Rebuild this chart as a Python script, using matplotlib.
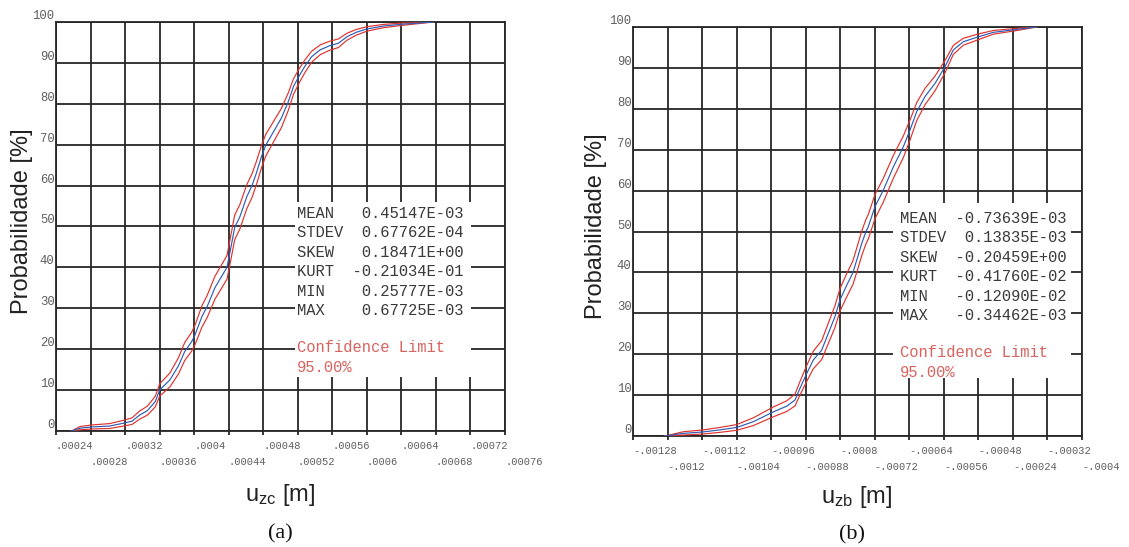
#!/usr/bin/env python3
"""Two cumulative probability plots (u_zc and u_zb) with 95% confidence bands."""
import matplotlib
matplotlib.use("Agg")
import matplotlib.pyplot as plt
from matplotlib.patches import Rectangle

plt.rcParams["mathtext.default"] = "regular"

# ---- data: panel (a) u_zc ------------------------------------------------
uzc_x = [0.000258, 0.000268, 0.000283, 0.000302, 0.000318, 0.000328, 0.000337,
         0.000346, 0.000355, 0.000360, 0.000372, 0.000382, 0.000389, 0.000397,
         0.000401, 0.000409, 0.000415, 0.000424, 0.000438, 0.000442, 0.000447,
         0.000453, 0.000461, 0.000467, 0.000472, 0.000478, 0.000483, 0.000492,
         0.000501, 0.000509, 0.000515, 0.000521, 0.000528, 0.000536, 0.000546,
         0.000557, 0.000567, 0.000577, 0.000588, 0.000600, 0.000619, 0.000638,
         0.000677]
uzc_p = [0, 0.7, 1.0, 1.2, 1.9, 2.4, 3.9, 5.0, 7.2, 10.0, 12.5, 16.0, 19.4, 21.8,
         23.5, 28.0, 30.4, 35.0, 40.0, 44.3, 49.8, 52.4, 57.3, 60.0, 63.0, 67.1,
         69.9, 73.2, 76.5, 80.5, 84.2, 86.6, 89.1, 91.5, 93.2, 94.2, 94.8, 96.4,
         97.5, 98.3, 99.0, 99.4, 100]
uzc_up = [0, 1.1, 1.5, 1.8, 2.6, 3.2, 4.9, 6.1, 8.5, 11.5, 14.2, 18.0, 21.6, 24.1,
          25.9, 30.6, 33.1, 37.8, 42.9, 47.3, 52.8, 55.4, 60.25, 62.9, 65.85,
          69.85, 72.55, 75.7, 78.85, 82.65, 86.1, 88.35, 90.65, 92.85, 94.4, 95.3,
          95.85, 97.25, 98.2, 98.85, 99.4, 99.7, 100]
uzc_lo = [0, 0.3, 0.5, 0.6, 1.2, 1.6, 2.9, 3.9, 5.9, 8.5, 10.8, 14.0, 17.2, 19.5,
          21.1, 25.4, 27.7, 32.2, 37.1, 41.3, 46.8, 49.4, 54.35, 57.1, 60.15,
          64.35, 67.25, 70.7, 74.15, 78.35, 82.3, 84.85, 87.55, 90.15, 92.0, 93.1,
          93.75, 95.55, 96.8, 97.75, 98.6, 99.1, 100]
uzc_top_ticks = [0.00024, 0.00032, 0.00040, 0.00048, 0.00056, 0.00064, 0.00072]
uzc_top_labels = [".00024", ".00032", ".0004", ".00048", ".00056", ".00064", ".00072"]
uzc_bot_ticks = [0.00028, 0.00036, 0.00044, 0.00052, 0.00060, 0.00068, 0.00076]
uzc_bot_labels = [".00028", ".00036", ".00044", ".00052", ".0006", ".00068", ".00076"]
uzc_stats = [("MEAN", " 0.45147E-03"), ("STDEV", " 0.67762E-04"),
             ("SKEW", " 0.18471E+00"), ("KURT", "-0.21034E-01"),
             ("MIN", " 0.25777E-03"), ("MAX", " 0.67725E-03")]

# ---- data: panel (b) u_zb ------------------------------------------------
uzb_x = [-0.0012059, -0.0011635, -0.0011172, -0.0010785, -0.0010398, -0.0010014,
         -0.0009551, -0.0009240, -0.0009048, -0.0008932, -0.0008777, -0.0008624,
         -0.0008430, -0.0008277, -0.0008122, -0.0008006, -0.0007844, -0.0007705,
         -0.0007589, -0.0007503, -0.0007404, -0.0007350, -0.0007195, -0.0007003,
         -0.0006771, -0.0006540, -0.0006385, -0.0006230, -0.0006037, -0.0005806,
         -0.0005574, -0.0005382, -0.0005150, -0.0004803, -0.0004455, -0.0003992,
         -0.0003450]
uzb_p = [0, 0.65, 1.0, 1.5, 2.1, 3.5, 5.9, 7.3, 8.8, 11.7, 15.3, 18.6, 21.0, 25.1,
         29.2, 33.3, 37.0, 40.0, 44.0, 47.1, 50.0, 51.2, 56.1, 60.1, 65.8, 70.7,
         74.8, 79.3, 83.0, 86.2, 90.3, 94.4, 96.4, 97.6, 98.7, 99.3, 100]
uzb_up = [0, 1.05, 1.5, 2.1, 2.8, 4.45, 7.1, 8.6, 10.25, 13.35, 17.25, 20.75, 23.3,
          27.6, 31.85, 36.05, 39.85, 42.9, 47.0, 50.1, 53.0, 54.2, 59.05, 63.0,
          68.6, 73.35, 77.25, 81.5, 85.0, 88.0, 91.8, 95.5, 97.25, 98.3, 99.15,
          99.6, 100]
uzb_lo = [0, 0.25, 0.5, 0.9, 1.4, 2.55, 4.7, 6.0, 7.35, 10.05, 13.35, 16.45, 18.7,
          22.6, 26.55, 30.55, 34.15, 37.1, 41.0, 44.1, 47.0, 48.2, 53.15, 57.2,
          63.0, 68.05, 72.35, 77.1, 81.0, 84.4, 88.8, 93.3, 95.55, 96.9, 98.25,
          99.0, 100]
uzb_top_ticks = [-0.00128, -0.00112, -0.00096, -0.00080, -0.00064, -0.00048, -0.00032]
uzb_top_labels = ["-.00128", "-.00112", "-.00096", "-.0008", "-.00064", "-.00048", "-.00032"]
uzb_bot_ticks = [-0.00120, -0.00104, -0.00088, -0.00072, -0.00056, -0.00040, -0.00024]
uzb_bot_labels = ["-.0012", "-.00104", "-.00088", "-.00072", "-.00056", "-.00024", "-.0004"]
uzb_stats = [("MEAN", "-0.73639E-03"), ("STDEV", " 0.13835E-03"),
             ("SKEW", "-0.20459E+00"), ("KURT", "-0.41760E-02"),
             ("MIN", "-0.12090E-02"), ("MAX", "-0.34462E-03")]

prob_ticks = [0, 10, 20, 30, 40, 50, 60, 70, 80, 90, 100]

GRID = "#262626"
BLUE = "#2f5bb7"
RED = "#e0322c"
TXT = "#3a3a3a"
CONF = "#d9635e"
TICK = "#5e5e5e"
MONO = "Liberation Mono"


def panel(fig, rect, xlim, x, p, up, lo, top_ticks, top_labels,
          bot_ticks, bot_labels, stats, box, text_x):
    ax = fig.add_axes(rect)
    ax.set_xlim(*xlim)
    ax.set_ylim(0, 100)

    ax.set_yticks(prob_ticks)
    ax.set_yticklabels([str(v) for v in prob_ticks], va="bottom",
                       family=MONO, size=8.8, color=TICK)
    ax.tick_params(axis="y", length=0, pad=1)

    ax.set_xticks(top_ticks)
    ax.set_xticklabels(top_labels, ha="left", family=MONO, size=7.5, color=TICK)
    ax.set_xticks(bot_ticks, minor=True)
    ax.set_xticklabels(bot_labels, minor=True, ha="left", family=MONO,
                       size=7.5, color=TICK)
    ax.tick_params(axis="x", which="both", length=3, width=1.3, color=GRID, pad=4)
    ax.tick_params(axis="x", which="minor", pad=15.5)

    ax.grid(True, axis="x", which="both", color=GRID, lw=1.3)
    ax.grid(True, axis="y", which="major", color=GRID, lw=1.3)
    for s in ax.spines.values():
        s.set_color(GRID)
        s.set_linewidth(1.3)

    # white panel behind the statistics, hiding the grid
    ax.add_patch(Rectangle((box[0], box[1]), box[2] - box[0], box[3] - box[1],
                           transform=ax.transAxes, facecolor="white",
                           edgecolor="none", zorder=1.8))

    ax.plot(x, up, color=RED, lw=0.85, zorder=3)
    ax.plot(x, lo, color=RED, lw=0.85, zorder=3)
    ax.plot(x, p, color=BLUE, lw=0.85, zorder=3)

    y0, dy = 0.532, 0.0477
    for i, (name, val) in enumerate(stats):
        ax.text(text_x, y0 - i * dy, f"{name:<6}{val}", transform=ax.transAxes,
                family=MONO, size=11.2, color=TXT, va="center", ha="left", zorder=4)
    ax.text(text_x, 0.203, "Confidence Limit", transform=ax.transAxes,
            family=MONO, size=11.2, color=CONF, va="center", ha="left", zorder=4)
    ax.text(text_x, 0.156, "95.00%", transform=ax.transAxes,
            family=MONO, size=11.2, color=CONF, va="center", ha="left", zorder=4)
    return ax


fig = plt.figure(figsize=(11.29, 5.47), dpi=100)
fig.patch.set_facecolor("white")

panel(fig, [0.0496, 0.2121, 0.3977, 0.7477], (0.00024, 0.00076),
      uzc_x, uzc_p, uzc_up, uzc_lo, uzc_top_ticks, uzc_top_labels,
      uzc_bot_ticks, uzc_bot_labels, uzc_stats,
      (0.532, 0.132, 0.924, 0.560), 0.537)
panel(fig, [0.5607, 0.2029, 0.3977, 0.7477], (-0.00128, -0.00024),
      uzb_x, uzb_p, uzb_up, uzb_lo, uzb_top_ticks, uzb_top_labels,
      uzb_bot_ticks, uzb_bot_labels, uzb_stats,
      (0.579, 0.142, 0.9755, 0.570), 0.595)

sans = "Liberation Sans"
fig.text(0.0195, 0.596, "Probabilidade [%]", rotation=90, ha="center",
         va="center", family=sans, size=17, color="#222222")
fig.text(0.528, 0.587, "Probabilidade [%]", rotation=90, ha="center",
         va="center", family=sans, size=17, color="#222222")
fig.text(0.248, 0.095, "u$_{zc}$ [m]", ha="center", va="center",
         family=sans, size=17, color="#222222")
fig.text(0.759, 0.091, "u$_{zb}$ [m]", ha="center", va="center",
         family=sans, size=17, color="#222222")
fig.text(0.248, 0.024, "(a)", ha="center", va="center",
         family="Liberation Serif", size=16, color="#111111")
fig.text(0.755, 0.022, "(b)", ha="center", va="center",
         family="Liberation Serif", size=16, color="#111111")

fig.savefig("out.png", dpi=100, facecolor="white")
